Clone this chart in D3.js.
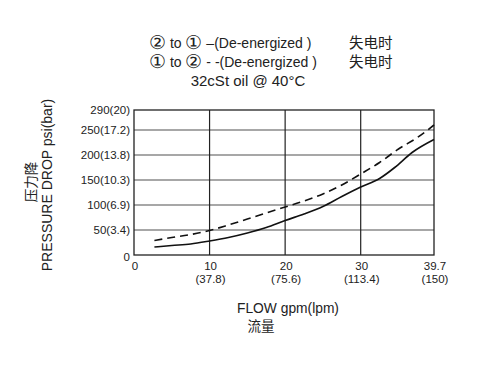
<!DOCTYPE html>
<html>
<head>
<meta charset="utf-8">
<script src="https://cdn.jsdelivr.net/npm/d3@7"></script>
<style>
  body { margin: 0; background: #fff; }
  svg { display: block; font-family: "Liberation Sans", Arial, sans-serif; }
</style>
</head>
<body>
<svg id="chart" width="497" height="367"></svg>
<script>
// flow in gpm, pressure drop in psi
const xTicks = [0, 10, 20, 30, 39.7];
const xTickLpm = ["", "(37.8)", "(75.6)", "(113.4)", "(150)"];
const yTicks = [0, 50, 100, 150, 200, 250, 290];
const yTickLabels = ["0", "50(3.4)", "100(6.9)", "150(10.3)", "200(13.8)", "250(17.2)", "290(20)"];

// 2 -> 1 (solid)
const flowA = [2.7, 5, 7.5, 10, 12.5, 15, 17.5, 20, 22.5, 25, 27.5, 30, 32.5, 34.5, 36.8, 39.7];
const dropA = [16, 19, 22, 28, 35, 44, 55, 69, 82, 97, 117, 136, 153, 175, 205, 231];
// 1 -> 2 (dashed)
const flowB = [2.7, 5, 7.5, 10, 12.5, 15, 17.5, 20, 22.5, 25, 27.5, 30, 32.5, 35, 37.5, 39.7];
const dropB = [29, 35, 41, 49, 60, 72, 84, 96, 108, 122, 140, 162, 185, 212, 235, 260];

const svg = d3.select("#chart");
const x = d3.scaleLinear().domain([0, 39.7]).range([134, 434]);
const y = d3.scaleLinear().domain([0, 290]).range([255, 110]);
const cjk = "Noto Sans CJK SC";

// horizontal grid (gray)
svg.append("g")
  .selectAll("line")
  .data(yTicks.slice(1, -1))
  .join("line")
  .attr("x1", x(0)).attr("x2", x(39.7))
  .attr("y1", d => y(d)).attr("y2", d => y(d))
  .attr("stroke", "#8a8a8a")
  .attr("stroke-width", 1.5);

// vertical grid (dark)
svg.append("g")
  .selectAll("line")
  .data([10, 20, 30])
  .join("line")
  .attr("x1", d => x(d)).attr("x2", d => x(d))
  .attr("y1", y(0)).attr("y2", y(290))
  .attr("stroke", "#222")
  .attr("stroke-width", 1.2);

// frame
svg.append("rect")
  .attr("x", x(0)).attr("y", y(290))
  .attr("width", x(39.7) - x(0)).attr("height", y(0) - y(290))
  .attr("fill", "none")
  .attr("stroke", "#222")
  .attr("stroke-width", 1.3);

// y tick labels
svg.append("g")
  .selectAll("text")
  .data(yTicks)
  .join("text")
  .attr("x", 130)
  .attr("y", (d, i) => y(d) + (i === 0 ? 6 : 4))
  .attr("text-anchor", "end")
  .attr("font-size", 11.5)
  .attr("fill", "#222")
  .text((d, i) => yTickLabels[i]);

// x tick labels
const xt = svg.append("g")
  .selectAll("g")
  .data(xTicks)
  .join("g");
xt.append("text")
  .attr("x", d => x(d) + 1)
  .attr("y", 270)
  .attr("text-anchor", "middle")
  .attr("font-size", 11.5)
  .attr("fill", "#222")
  .text(d => d);
xt.append("text")
  .attr("x", d => x(d) + 1)
  .attr("y", 283)
  .attr("text-anchor", "middle")
  .attr("font-size", 11.5)
  .attr("fill", "#222")
  .text((d, i) => xTickLpm[i]);

// curves
const line = d3.line()
  .x(d => x(d[0]))
  .y(d => y(d[1]))
  .curve(d3.curveMonotoneX);

svg.append("path")
  .datum(d3.zip(flowA, dropA))
  .attr("d", line)
  .attr("fill", "none")
  .attr("stroke", "#111")
  .attr("stroke-width", 1.6);

svg.append("path")
  .datum(d3.zip(flowB, dropB))
  .attr("d", line)
  .attr("fill", "none")
  .attr("stroke", "#111")
  .attr("stroke-width", 1.6)
  .attr("stroke-dasharray", "8,5");

// axis titles
svg.append("text")
  .attr("transform", "translate(52,185) rotate(-90)")
  .attr("text-anchor", "middle")
  .attr("font-size", 14)
  .attr("fill", "#222")
  .text("PRESSURE DROP psi(bar)");
svg.append("text")
  .attr("transform", "translate(36,182) rotate(-90)")
  .attr("text-anchor", "middle")
  .attr("font-family", cjk)
  .attr("font-size", 13.5)
  .attr("fill", "#222")
  .text("压力降");

svg.append("text")
  .attr("x", 288).attr("y", 313)
  .attr("text-anchor", "middle")
  .attr("font-size", 13.8)
  .attr("fill", "#222")
  .text("FLOW gpm(lpm)");
svg.append("text")
  .attr("x", 261).attr("y", 331)
  .attr("text-anchor", "middle")
  .attr("font-family", cjk)
  .attr("font-size", 13.5)
  .attr("fill", "#222")
  .text("流量");

// legend / header
const legend = [
  { from: "②", to: "①", mark: "–", baseline: 48 },
  { from: "①", to: "②", mark: "- -", baseline: 67 }
];
const lt = svg.append("g")
  .selectAll("text")
  .data(legend)
  .join("text")
  .attr("x", 149)
  .attr("y", d => d.baseline)
  .attr("font-size", 14)
  .attr("fill", "#222");
lt.append("tspan").attr("font-size", 19).attr("dy", 1).text(d => d.from);
lt.append("tspan").attr("dy", -1).text(" to ");
lt.append("tspan").attr("font-size", 19).attr("dy", 1).text(d => d.to);
lt.append("tspan").attr("dy", -1).text(d => " " + d.mark + "(De-energized )");

svg.append("g")
  .selectAll("text")
  .data(legend)
  .join("text")
  .attr("x", 349)
  .attr("y", d => d.baseline)
  .attr("font-family", cjk)
  .attr("font-size", 14.5)
  .attr("fill", "#222")
  .text("失电时");
svg.append("text")
  .attr("x", 248).attr("y", 86)
  .attr("text-anchor", "middle")
  .attr("font-size", 15)
  .attr("fill", "#222")
  .text("32cSt oil @ 40°C");
</script>
</body>
</html>
